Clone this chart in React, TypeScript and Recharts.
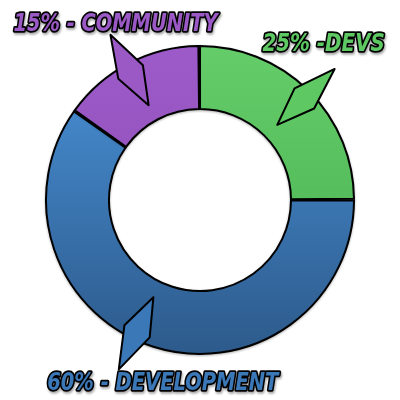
import React from 'react';
import { PieChart, Pie, Cell } from 'recharts';

const NAMES = ['Devs', 'Development', 'Community'];
const SHARES = [25, 60, 15];
const LABELS = ['25% -DEVS', '60% - DEVELOPMENT', '15% - COMMUNITY'];

const COLORS = ['#5ec963', '#3b78b8', '#9b59c6'];
const GRADIENTS = [
  ['#64cd69', '#56bd5c'],
  ['#4386c8', '#2d5a8b'],
  ['#9d5bca', '#9655c0'],
];
// callout tilt relative to slice middle, and label offset from callout tip
const ARROW_SHIFT = [-1, -8, 1];
const LABEL_OFFSET = [[-11, -26], [44, 13], [5, -12]];

const data = NAMES.map((name, i) => ({ name, value: SHARES[i] }));

const RAD = Math.PI / 180;
const polar = (cx: number, cy: number, r: number, a: number) => [
  cx + r * Math.cos(a * RAD),
  cy - r * Math.sin(a * RAD),
];

const Callout = (props: any) => {
  const { cx, cy, midAngle, outerRadius, index } = props;
  const a = midAngle + ARROW_SHIFT[index];
  const R = outerRadius;
  const tip = polar(cx, cy, R * 1.22, a);
  const s1 = polar(cx, cy, R * 0.95, a - 5.5);
  const inner = polar(cx, cy, R * 0.7, a);
  const s2 = polar(cx, cy, R * 0.95, a + 5.5);
  const pts = [tip, s1, inner, s2].map((p) => p.join(',')).join(' ');
  const text = LABELS[index];
  const [dx, dy] = LABEL_OFFSET[index];
  return (
    <g>
      <polygon points={pts} fill={COLORS[index]} stroke="#000" strokeWidth={2} strokeLinejoin="round" />
      <text
        x={tip[0] + dx}
        y={tip[1] + dy}
        textAnchor="middle"
        dominantBaseline="central"
        fontFamily="'DejaVu Sans Condensed', 'DejaVu Sans', sans-serif"
        fontWeight="bold"
        fontStyle="italic"
        fontSize={24}
        textLength={text.length * 13.6}
        lengthAdjust="spacingAndGlyphs"
        fill={COLORS[index]}
        stroke="#000"
        strokeWidth={3.5}
        strokeLinejoin="round"
        paintOrder="stroke"
        style={{ filter: 'drop-shadow(1px 2px 1px rgba(0,0,0,0.35))', fontStretch: 'condensed' }}
      >
        {text}
      </text>
    </g>
  );
};

export default function App() {
  return (
    <div style={{ position: 'absolute', left: 0, top: 0, width: 400, height: 400, background: '#fff' }}>
      <PieChart width={400} height={400} margin={{ top: 0, right: 0, bottom: 0, left: 0 }}>
        <defs>
          {GRADIENTS.map((g, i) => (
            <linearGradient key={i} id={`grad-${i}`} x1="0" y1="0" x2="0" y2="1">
              <stop offset="0%" stopColor={g[0]} />
              <stop offset="100%" stopColor={g[1]} />
            </linearGradient>
          ))}
        </defs>
        <Pie
          data={data}
          dataKey="value"
          nameKey="name"
          cx={200}
          cy={200}
          innerRadius={91}
          outerRadius={154}
          startAngle={90}
          endAngle={-270}
          paddingAngle={0.6}
          stroke="#000"
          strokeWidth={2}
          labelLine={false}
          label={Callout}
          isAnimationActive={false}
          style={{ filter: 'drop-shadow(0px 1px 1px rgba(0,0,0,0.3))' }}
        >
          {data.map((d, i) => (
            <Cell key={d.name} fill={`url(#grad-${i})`} />
          ))}
        </Pie>
      </PieChart>
    </div>
  );
}
